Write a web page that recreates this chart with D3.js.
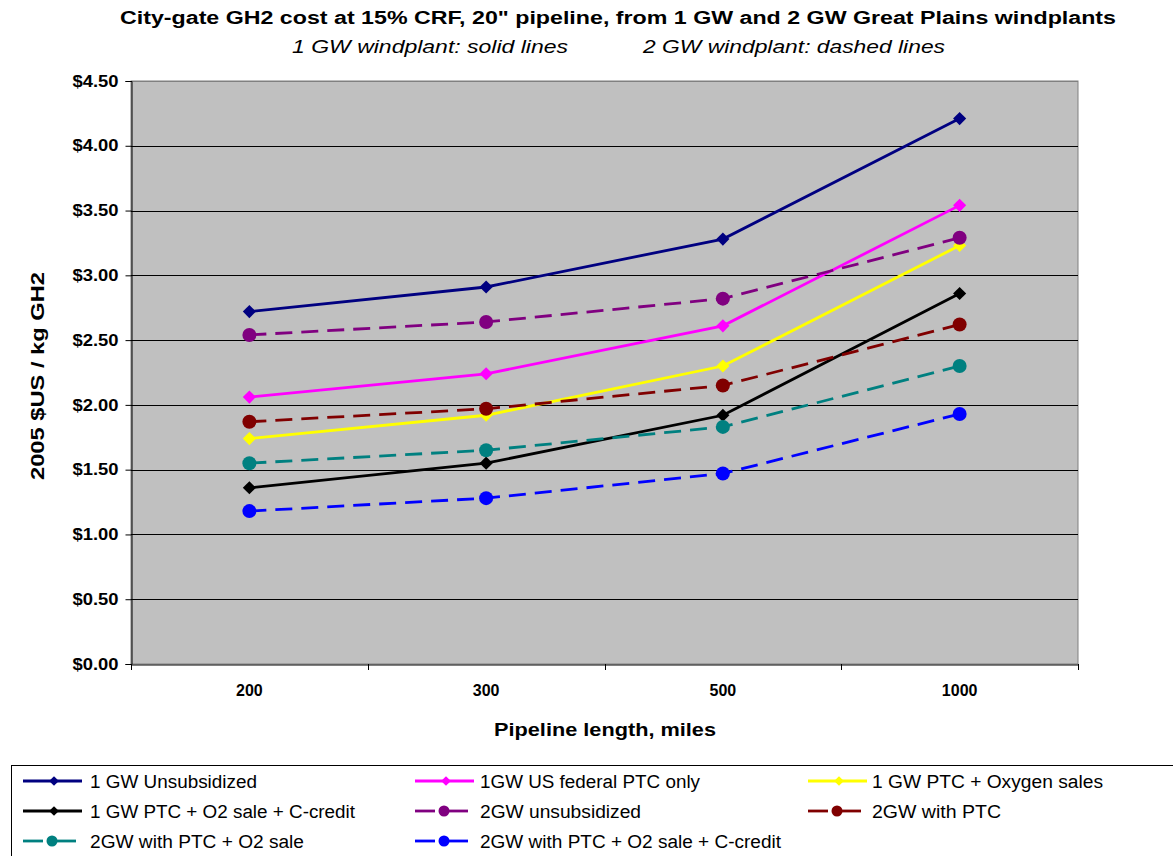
<!DOCTYPE html>
<html><head><meta charset="utf-8">
<script src="https://cdn.jsdelivr.net/npm/d3@7"></script>
<style>body{margin:0;background:#fff}svg{display:block;font-family:"Liberation Sans",Arial,sans-serif}</style>
</head><body><svg id="c" width="1173" height="856"></svg>
<script>
const categories = ["200", "300", "500", "1000"];
const yTicks = [0, 0.5, 1, 1.5, 2, 2.5, 3, 3.5, 4, 4.5];
const seriesNames = ["1 GW Unsubsidized", "1GW US federal PTC only", "1 GW PTC + Oxygen sales",
  "1 GW PTC + O2 sale + C-credit", "2GW unsubsidized", "2GW with PTC",
  "2GW with PTC + O2 sale", "2GW with PTC + O2 sale + C-credit"];
const s1 = [2.72, 2.91, 3.28, 4.21];
const s2 = [2.06, 2.24, 2.61, 3.54];
const s3 = [1.74, 1.92, 2.30, 3.23];
const s4 = [1.36, 1.55, 1.92, 2.86];
const s5 = [2.54, 2.64, 2.82, 3.29];
const s6 = [1.87, 1.97, 2.15, 2.62];
const s7 = [1.55, 1.65, 1.83, 2.30];
const s8 = [1.18, 1.28, 1.47, 1.93];
const seriesValues = [s1, s2, s3, s4, s5, s6, s7, s8];
const colors = ["#000080", "#FF00FF", "#FFFF00", "#000000", "#800080", "#800000", "#008080", "#0000FF"];
const dashed = [false, false, false, false, true, true, true, true];
const markerType = ["diamond", "diamond", "diamond", "diamond", "circle", "circle", "circle", "circle"];
const legendTextWidths = [167, 220, 231, 265, 161, 129, 214, 301];

const svg = d3.select("#c");
const L = 131, R = 1078, T = 81, B = 664;
const x = d3.scaleBand().domain(categories).range([L, R]).padding(0);
const y = d3.scaleLinear().domain([0, 4.5]).range([B, T]);

// plot area
svg.append("rect").attr("x", L).attr("y", T).attr("width", R - L).attr("height", B - T)
  .attr("fill", "#C0C0C0").attr("stroke", "#808080").attr("stroke-width", 1);
svg.append("g").selectAll("line").data(yTicks.filter(d => d > 0)).join("line")
  .attr("x1", L).attr("x2", R).attr("y1", d => Math.round(y(d)) + 0.5).attr("y2", d => Math.round(y(d)) + 0.5)
  .attr("stroke", d => d === 4.5 ? "#808080" : "#000").attr("stroke-width", 1);

// y axis
const yAxis = svg.append("g").attr("transform", `translate(${L + 0.5},0)`)
  .call(d3.axisLeft(y).tickValues(yTicks).tickSize(6).tickPadding(7).tickFormat(d => "$" + d.toFixed(2)));
yAxis.selectAll("text").attr("font-size", 16).attr("font-weight", "bold").attr("fill", "#000")
  .attr("font-family", "Liberation Sans, Arial, sans-serif")
  .attr("textLength", 46).attr("lengthAdjust", "spacingAndGlyphs");
yAxis.select(".domain").attr("stroke", "#000");
yAxis.selectAll(".tick line").attr("stroke", "#000");

// x axis
const xAxis = svg.append("g").attr("transform", `translate(0,${B + 0.5})`)
  .call(d3.axisBottom(x).tickSize(0).tickPadding(20));
xAxis.selectAll("text").attr("font-size", 16).attr("font-weight", "bold").attr("fill", "#000")
  .attr("font-family", "Liberation Sans, Arial, sans-serif");
xAxis.select(".domain").attr("stroke", "#000");
const bounds = categories.map(c => x(c)).concat([x(categories[categories.length - 1]) + x.bandwidth()]);
svg.append("g").selectAll("line").data(bounds).join("line")
  .attr("x1", d => Math.round(d) + 0.5).attr("x2", d => Math.round(d) + 0.5)
  .attr("y1", B).attr("y2", B + 6).attr("stroke", "#000");

// series
const line = d3.line().x((d, i) => x(categories[i]) + x.bandwidth() / 2).y(d => y(d));
const diamond = d3.symbol().type(d3.symbolDiamond2).size(110);
const diamondSmall = d3.symbol().type(d3.symbolDiamond2).size(60);
seriesValues.forEach((vals, si) => {
  svg.append("path").datum(vals).attr("d", line).attr("fill", "none")
    .attr("stroke", colors[si]).attr("stroke-width", 2.8)
    .attr("stroke-dasharray", dashed[si] ? "17,9" : null);
});
seriesValues.forEach((vals, si) => {
  const g = svg.append("g");
  vals.forEach((v, i) => {
    const cx = x(categories[i]) + x.bandwidth() / 2, cy = y(v);
    if (markerType[si] === "diamond") {
      g.append("path").attr("d", diamond()).attr("transform", `translate(${cx},${cy})`).attr("fill", colors[si]);
    } else {
      g.append("circle").attr("cx", cx).attr("cy", cy).attr("r", 7).attr("fill", colors[si]);
    }
  });
});

// titles
svg.append("text").attr("x", 618).attr("y", 24).attr("text-anchor", "middle")
  .attr("font-size", 18).attr("font-weight", "bold").attr("textLength", 996).attr("lengthAdjust", "spacingAndGlyphs")
  .text('City-gate GH2 cost at 15% CRF,  20" pipeline,  from 1 GW and 2 GW Great Plains windplants');
svg.append("text").attr("x", 292).attr("y", 53).attr("font-size", 18).attr("font-style", "italic")
  .attr("textLength", 276).attr("lengthAdjust", "spacingAndGlyphs").text("1 GW windplant: solid lines");
svg.append("text").attr("x", 643).attr("y", 53).attr("font-size", 18).attr("font-style", "italic")
  .attr("textLength", 302).attr("lengthAdjust", "spacingAndGlyphs").text("2 GW windplant: dashed lines");
svg.append("text").attr("x", 605).attr("y", 736).attr("text-anchor", "middle")
  .attr("font-size", 18).attr("font-weight", "bold").attr("textLength", 222).attr("lengthAdjust", "spacingAndGlyphs")
  .text("Pipeline length, miles");
svg.append("text").attr("transform", "translate(44,376) rotate(-90)").attr("text-anchor", "middle")
  .attr("font-size", 18).attr("font-weight", "bold").attr("textLength", 208).attr("lengthAdjust", "spacingAndGlyphs")
  .text("2005  $US / kg  GH2");

// legend
svg.append("rect").attr("x", 11.5).attr("y", 765.5).attr("width", 1180).attr("height", 100)
  .attr("fill", "#fff").attr("stroke", "#000").attr("stroke-width", 1);
const colX = [23, 415, 808];
const textX = [90, 480, 872];
const rowY = [781, 811, 841];
seriesNames.forEach((name, si) => {
  const col = si % 3, cy = rowY[Math.floor(si / 3)];
  const g = svg.append("g").attr("transform", `translate(${colX[col]},${cy})`);
  if (dashed[si]) {
    g.append("line").attr("x1", 0).attr("x2", 20).attr("stroke", colors[si]).attr("stroke-width", 2.8);
    g.append("line").attr("x1", 26).attr("x2", 53).attr("stroke", colors[si]).attr("stroke-width", 2.8);
  } else {
    g.append("line").attr("x1", 0).attr("x2", 59).attr("stroke", colors[si]).attr("stroke-width", 2.8);
  }
  if (markerType[si] === "diamond") g.append("path").attr("d", diamondSmall()).attr("transform", "translate(31,0)").attr("fill", colors[si]);
  else g.append("circle").attr("cx", 29).attr("cy", 0).attr("r", 5.5).attr("fill", colors[si]);
  g.append("text").attr("x", textX[col] - colX[col]).attr("y", 6.5).attr("font-size", 18).text(name)
    .attr("textLength", legendTextWidths[si]).attr("lengthAdjust", "spacingAndGlyphs");
});
</script></body></html>
